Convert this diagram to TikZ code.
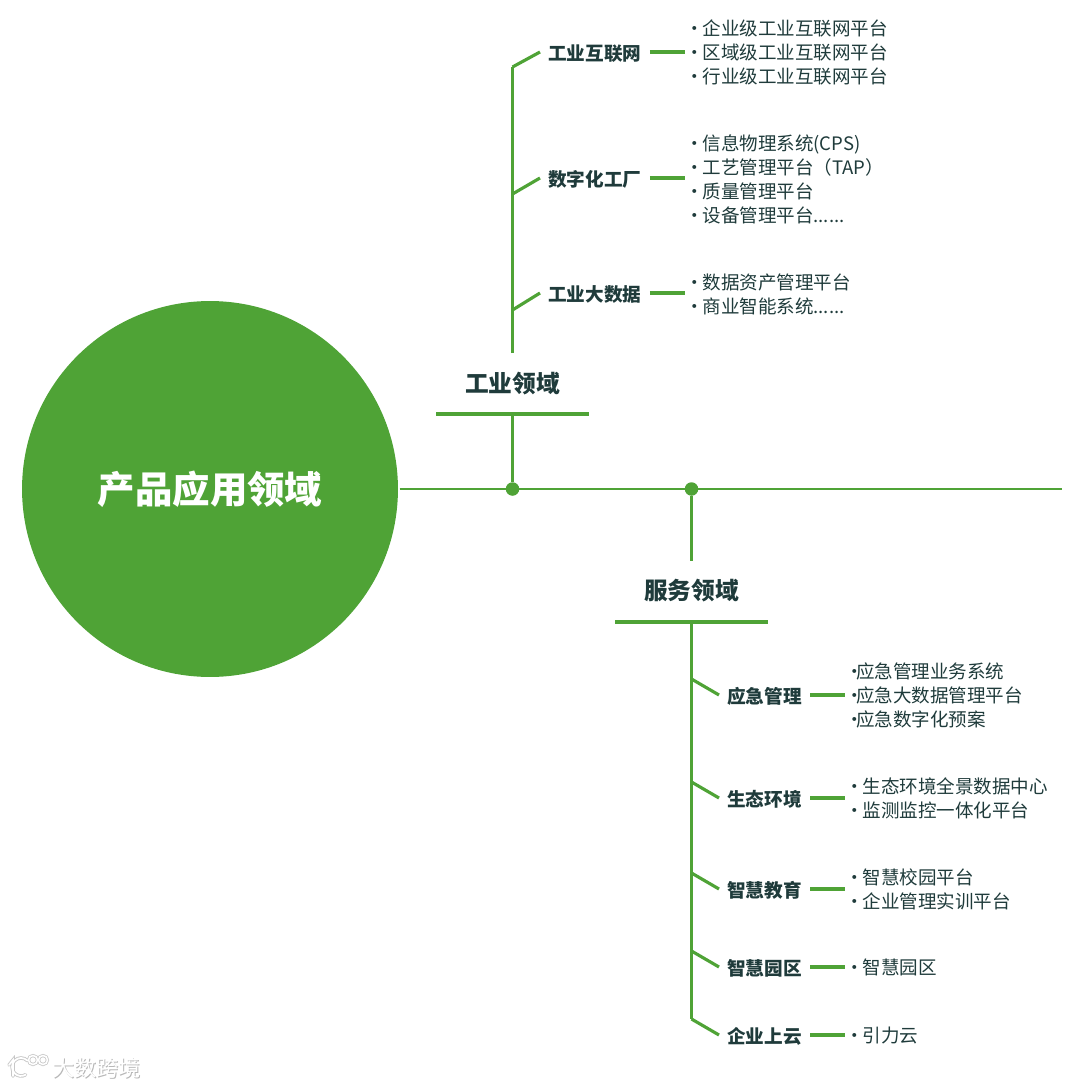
\documentclass[tikz,border=0pt]{standalone}
\usepackage{fontspec}
\setmainfont{Noto Sans CJK SC}
\usetikzlibrary{positioning}
\definecolor{leaf}{HTML}{4FA336}
\definecolor{ink}{HTML}{1F3B3B}
\newcommand{\lead}{·\hspace{-1.1pt}}
\newcommand{\leadtight}{·\hspace{-4.7pt}}

\begin{document}
\begin{tikzpicture}[
    x=0.02cm, y=-0.02cm,
    every node/.style={text=ink},
    rootnode/.style={
        circle,
        fill=leaf,
        text=white,
        minimum size=7.52cm,
        inner sep=0pt,
        outer sep=1pt,
        font=\fontsize{21.3}{26}\selectfont\bfseries
    },
    areatitle/.style={font=\fontsize{13.5}{16}\selectfont\bfseries, inner sep=0pt},
    areabar/.style={fill=leaf, minimum width=3.06cm, minimum height=0.075cm, inner sep=0pt},
    topic/.style={
        anchor=west,
        inner xsep=0.16cm,
        inner ysep=0pt,
        text height=10pt,
        text depth=0.8pt,
        font=\fontsize{10.6}{13}\selectfont\bfseries
    },
    items/.style={
        anchor=west,
        align=left,
        inner xsep=0.01cm,
        inner ysep=0pt,
        font=\fontsize{10.55}{13.62}\selectfont
    },
    hubdot/.style={circle, fill=leaf, minimum size=0.27cm, inner sep=0pt},
    link/.style={draw=leaf, line width=1.8pt},
    mainlink/.style={draw=leaf, line width=1.4pt},
    markshadow/.style={font=\fontsize{12.6}{15}\selectfont, inner sep=0pt, text=black!28},
    markfront/.style={font=\fontsize{12.6}{15}\selectfont, inner sep=0pt, text=white}
]
\useasboundingbox (0,0) rectangle (1080,1088);

% root and main axis
\node[rootnode] (root) at (210,489) {产品应用领域};
\coordinate (axisend) at (1062,489);
\node[hubdot] (hubind) at (512.5,489) {};
\node[hubdot] (hubsrv) at (691.5,489) {};
\draw[mainlink] (root.east) -- (axisend);

% industry side
\node[areatitle] (indtitle) at (512.5,384) {工业领域};
\node[areabar] (indbar) at (512.5,414) {};
\coordinate (indtop) at (512.5,67);
\coordinate (indlow) at (512.5,353);
\coordinate (indb) at (512.5,194);
\coordinate (indc) at (512.5,310);
\draw[link] (hubind) -- (indbar);
\draw[link] (indlow) -- (indtop);

\node[topic] (iiot) at (540,52) {工业互联网};
\node[items] (iiotlist) at (685,52.5) {\lead 企业级工业互联网平台\\\lead 区域级工业互联网平台\\\lead 行业级工业互联网平台};
\node[topic] (factory) at (540,178) {数字化工厂};
\node[items] (factorylist) at (685,179) {\lead 信息物理系统(CPS)\\\lead 工艺管理平台（TAP）\\\lead 质量管理平台\\\lead 设备管理平台......};
\node[topic] (bigdata) at (540,293) {工业大数据};
\node[items] (bigdatalist) at (685,294.5) {\lead 数据资产管理平台\\\lead 商业智能系统......};
\coordinate (iiotgap) at (685,52);
\coordinate (factorygap) at (685,178);
\coordinate (bigdatagap) at (685,293);

\draw[link] (indtop) -- (iiot.west);
\draw[link] (indb) -- (factory.west);
\draw[link] (indc) -- (bigdata.west);
\draw[link] (iiot.east) -- (iiotgap);
\draw[link] (factory.east) -- (factorygap);
\draw[link] (bigdata.east) -- (bigdatagap);

% service side
\node[areatitle] (srvtitle) at (691.5,591) {服务领域};
\node[areabar] (srvbar) at (691.5,622) {};
\coordinate (srvneck) at (691.5,561);
\coordinate (srvlow) at (691.5,1019);
\coordinate (srvb) at (691.5,782);
\coordinate (srvc) at (691.5,873);
\coordinate (srvd) at (691.5,951);
\coordinate (srva) at (691.5,679);
\draw[link] (hubsrv) -- (srvneck);
\draw[link] (srvbar) -- (srvlow);

\node[topic] (rescue) at (719,695) {应急管理};
\node[items] (rescuelist) at (845,695.3) {\leadtight 应急管理业务系统\\\leadtight 应急大数据管理平台\\\leadtight 应急数字化预案};
\node[topic] (ecology) at (719,798) {生态环境};
\node[items] (ecologylist) at (845,798.3) {\lead 生态环境全景数据中心\\\lead 监测监控一体化平台};
\node[topic] (school) at (719,889) {智慧教育};
\node[items] (schoollist) at (845,889.5) {\lead 智慧校园平台\\\lead 企业管理实训平台};
\node[topic] (park) at (719,967) {智慧园区};
\node[items] (parklist) at (845,967.7) {\lead 智慧园区};
\node[topic] (cloud) at (719,1035) {企业上云};
\node[items] (cloudlist) at (845,1035.7) {\lead 引力云};
\coordinate (rescuegap) at (845,695);
\coordinate (ecologygap) at (845,798);
\coordinate (schoolgap) at (845,889);
\coordinate (parkgap) at (845,967);
\coordinate (cloudgap) at (845,1035);

\draw[link] (srva) -- (rescue.west);
\draw[link] (srvb) -- (ecology.west);
\draw[link] (srvc) -- (school.west);
\draw[link] (srvd) -- (park.west);
\draw[link] (srvlow) -- (cloud.west);
\draw[link] (rescue.east) -- (rescuegap);
\draw[link] (ecology.east) -- (ecologygap);
\draw[link] (school.east) -- (schoolgap);
\draw[link] (park.east) -- (parkgap);
\draw[link] (cloud.east) -- (cloudgap);

% corner mark
\draw[black!22, line width=2pt, line cap=round] (9,1065) -- (13,1060) -- (13,1076);
\draw[black!22, line width=2pt, line cap=round] (27.4,1060.6) arc[start angle=-45, end angle=-300, radius=9];
\draw[black!22, line width=1.8pt] (33,1060) circle[radius=4.5] (43,1060) circle[radius=4.5];
\draw[white, line width=1pt, line cap=round] (9,1065) -- (13,1060) -- (13,1076);
\draw[white, line width=1pt, line cap=round] (27.4,1060.6) arc[start angle=-45, end angle=-300, radius=9];
\draw[white, line width=0.9pt] (33,1060) circle[radius=4.5] (43,1060) circle[radius=4.5];
\node[markshadow, anchor=west] (markback) at (52.8,1068.8) {大数跨境};
\node[markfront, anchor=west] (markname) at (52,1068) {大数跨境};
\end{tikzpicture}
\end{document}
